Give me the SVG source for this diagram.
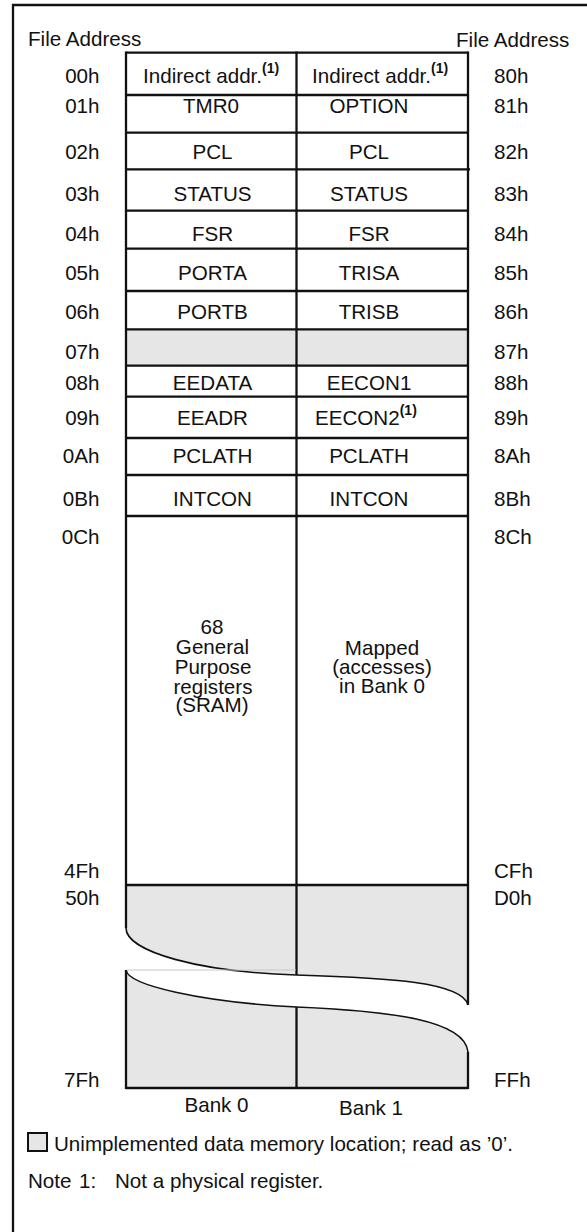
<svg xmlns="http://www.w3.org/2000/svg" width="587" height="1232" viewBox="0 0 587 1232">
<style>
text{font-family:"Liberation Sans",Arial,Helvetica,sans-serif;font-size:20.6px;fill:#111}
.m{text-anchor:middle}
.e{text-anchor:end}
.sup{font-size:14px;font-weight:bold}
.g{fill:#e6e6e6}
.ln{fill:none;stroke:#111;stroke-width:2.3}
.cv{fill:none;stroke:#111;stroke-width:1.6}
</style>
<rect width="587" height="1232" fill="#fff"/>
<path id="frame" class="ln" d="M13,1232V5H588"/>
<g id="headers">
<text x="28" y="45.5">File Address</text>
<text x="456" y="47">File Address</text>
</g>
<g id="fills">
<rect class="g" x="126" y="329.3" width="342" height="36.4"/>
<path class="g" d="M126,885H468V1005C462,982 390,978 296.5,975C200,972 126,952 126,928Z"/>
<path class="g" d="M126,970C128,985 200,1002 296.5,1007C390,1011 465,1020 468,1052V1088H126Z"/>
</g>
<g id="grid">
<path class="ln" d="M126,52.7H468M126,95H468M126,132.7H468M126,169.3H470M126,210.7H468M126,248.7H468M126,291H468M126,329.3H468M126,365.7H468M126,396.7H468M126,438H468M126,475H468M126,516H468M126,885H468M126,1088H468"/>
<path class="ln" d="M126,51.6V928M296.5,51.6V975M468,51.6V1005M126,970V1089M296.5,1007V1089M468,1052V1089"/>
<path class="cv" d="M126,928C126,952 200,972 296.5,975C390,978 462,982 468,1005"/>
<path class="cv" d="M126,970C128,985 200,1002 296.5,1007C390,1011 465,1020 468,1052"/>
<path d="M127,970H296" stroke="#c8c8c8" stroke-width="1" fill="none"/>
</g>
<g id="addr-left">
<text class="e" x="99.5" y="83.3">00h</text>
<text class="e" x="99.5" y="113.3">01h</text>
<text class="e" x="99.5" y="159.3">02h</text>
<text class="e" x="99.5" y="201">03h</text>
<text class="e" x="99.5" y="241.3">04h</text>
<text class="e" x="99.5" y="280">05h</text>
<text class="e" x="99.5" y="319">06h</text>
<text class="e" x="99.5" y="359">07h</text>
<text class="e" x="99.5" y="390">08h</text>
<text class="e" x="99.5" y="425">09h</text>
<text class="e" x="99.5" y="462.7">0Ah</text>
<text class="e" x="99.5" y="506">0Bh</text>
<text class="e" x="99.5" y="544">0Ch</text>
<text class="e" x="99.5" y="878">4Fh</text>
<text class="e" x="99.5" y="905">50h</text>
<text class="e" x="99.5" y="1087">7Fh</text>
</g>
<g id="addr-right">
<text x="494" y="83.3">80h</text>
<text x="494" y="113.3">81h</text>
<text x="494" y="159.3">82h</text>
<text x="494" y="201">83h</text>
<text x="494" y="241.3">84h</text>
<text x="494" y="280">85h</text>
<text x="494" y="319">86h</text>
<text x="494" y="359">87h</text>
<text x="494" y="390">88h</text>
<text x="494" y="425">89h</text>
<text x="494" y="462.7">8Ah</text>
<text x="494" y="506">8Bh</text>
<text x="494" y="544">8Ch</text>
<text x="494" y="878">CFh</text>
<text x="494" y="905">D0h</text>
<text x="494" y="1087">FFh</text>
</g>
<g id="bank0">
<g id="b0-00"><text x="143" y="83.3">Indirect addr.<tspan class="sup" dy="-10">(1)</tspan></text></g>
<g id="b0-01"><text class="m" x="211" y="113.3">TMR0</text></g>
<g id="b0-02"><text class="m" x="212.5" y="159.3">PCL</text></g>
<g id="b0-03"><text class="m" x="212.5" y="201">STATUS</text></g>
<g id="b0-04"><text class="m" x="212.5" y="241.3">FSR</text></g>
<g id="b0-05"><text class="m" x="212.5" y="280">PORTA</text></g>
<g id="b0-06"><text class="m" x="212.5" y="319">PORTB</text></g>
<g id="b0-08"><text class="m" x="212.5" y="390">EEDATA</text></g>
<g id="b0-09"><text class="m" x="212.5" y="425">EEADR</text></g>
<g id="b0-0A"><text class="m" x="212.5" y="462.7">PCLATH</text></g>
<g id="b0-0B"><text class="m" x="212.5" y="506">INTCON</text></g>
<g id="b0-gpr">
<text class="m" x="212" y="634">68</text>
<text class="m" x="212.5" y="654">General</text>
<text class="m" x="213" y="674">Purpose</text>
<text class="m" x="213" y="693.5">registers</text>
<text class="m" x="212" y="712">(SRAM)</text>
</g>
</g>
<g id="bank1">
<g id="b1-80"><text x="312" y="83.3">Indirect addr.<tspan class="sup" dy="-10">(1)</tspan></text></g>
<g id="b1-81"><text class="m" x="369" y="113.3">OPTION</text></g>
<g id="b1-82"><text class="m" x="369" y="159.3">PCL</text></g>
<g id="b1-83"><text class="m" x="369" y="201">STATUS</text></g>
<g id="b1-84"><text class="m" x="369" y="241.3">FSR</text></g>
<g id="b1-85"><text class="m" x="369" y="280">TRISA</text></g>
<g id="b1-86"><text class="m" x="369" y="319">TRISB</text></g>
<g id="b1-88"><text class="m" x="369" y="390">EECON1</text></g>
<g id="b1-89"><text x="315" y="425">EECON2<tspan class="sup" dy="-10">(1)</tspan></text></g>
<g id="b1-8A"><text class="m" x="369" y="462.7">PCLATH</text></g>
<g id="b1-8B"><text class="m" x="369" y="506">INTCON</text></g>
<g id="b1-mapped">
<text class="m" x="382" y="655">Mapped</text>
<text class="m" x="382" y="673.5">(accesses)</text>
<text class="m" x="382" y="693">in Bank 0</text>
</g>
</g>
<g id="bank-labels">
<text class="m" x="216.5" y="1111.5">Bank 0</text>
<text class="m" x="371" y="1115">Bank 1</text>
</g>
<g id="legend">
<rect x="28" y="1133" width="19" height="18" fill="#e6e6e6" stroke="#111" stroke-width="2"/>
<text x="54" y="1151">Unimplemented data memory location; read as ’0’.</text>
</g>
<g id="note">
<text x="28" y="1188">Note</text>
<text x="79" y="1188">1:</text>
<text x="115" y="1188">Not a physical register.</text>
</g>
</svg>
